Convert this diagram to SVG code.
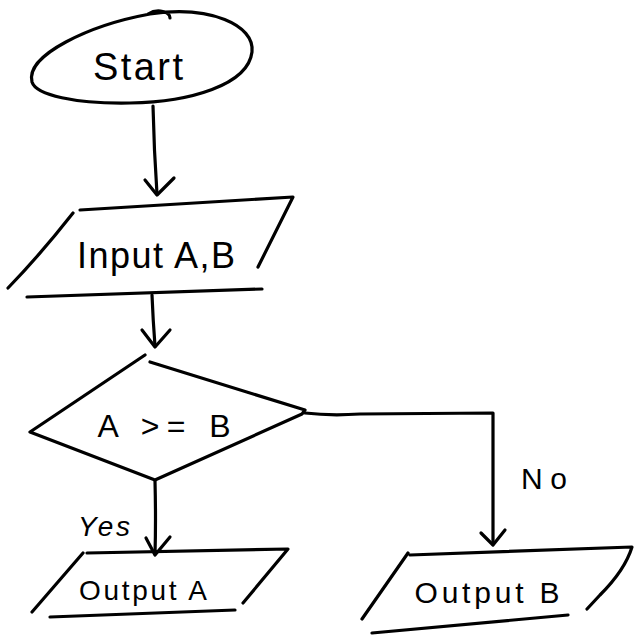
<svg xmlns="http://www.w3.org/2000/svg" width="640" height="640" viewBox="0 0 640 640">
<style>
.s{fill:none;stroke:#000;stroke-width:3.2;stroke-linecap:round;stroke-linejoin:round}
.t{font-family:"Liberation Sans",Arial,sans-serif;fill:#000;text-anchor:middle}
</style>
<rect width="640" height="640" fill="#fff"/>
<g id="connectors">
<path class="s" d="M153,106 Q154,150 157,194"/>
<path class="s" d="M145,180 L157,195 L174,178"/>
<path class="s" d="M152,295 Q153,320 155,346"/>
<path class="s" d="M142,330 L155,347 L170,330"/>
<path class="s" d="M155,481 Q156,520 155,554"/>
<path class="s" d="M146,538 L155,555 L170,537"/>
<path class="s" d="M305,413 Q330,416 360,414 L493,413 L493,544"/>
<path class="s" d="M481,533 L493,545 L505,530"/>
<text class="t" x="104" y="536" font-size="28" font-style="italic" textLength="52" lengthAdjust="spacing">Yes</text>
<text class="t" x="544" y="489" font-size="30" textLength="46" lengthAdjust="spacing">No</text>
</g>
<g id="start">
<path class="s" d="M32,82 C25,55 90,25 150,14 C210,5 255,25 252,52 C248,85 190,102 130,103 C75,104 36,95 32,82 Z M148,14 C158,8 170,12 170,18"/>
<text class="t" x="138" y="80" font-size="38" textLength="90" lengthAdjust="spacing">Start</text>
</g>
<g id="input">
<path class="s" d="M80,210 L293,197 L258,267 M73,213 Q40,255 8,288 M27,297 L262,289"/>
<text class="t" x="156" y="268" font-size="36" textLength="158" lengthAdjust="spacing">Input A,B</text>
</g>
<g id="decision">
<path class="s" d="M145,355 L30,432 L155,480 L302,414 L305,410 L150,362"/>
<text class="t" x="164" y="437" font-size="32" textLength="133" lengthAdjust="spacing">A &gt;= B</text>
</g>
<g id="outputA">
<path class="s" d="M87,553 L288,549 L243,603 M83,553 L32,612 M50,617 L235,610"/>
<text class="t" x="143" y="600" font-size="28" textLength="128" lengthAdjust="spacing">Output A</text>
</g>
<g id="outputB">
<path class="s" d="M410,555 L632,547 Q625,570 600,595 L587,609 M408,553 L362,619 M372,633 L568,615"/>
<text class="t" x="487" y="603" font-size="30" textLength="145" lengthAdjust="spacing">Output B</text>
</g>
</svg>
